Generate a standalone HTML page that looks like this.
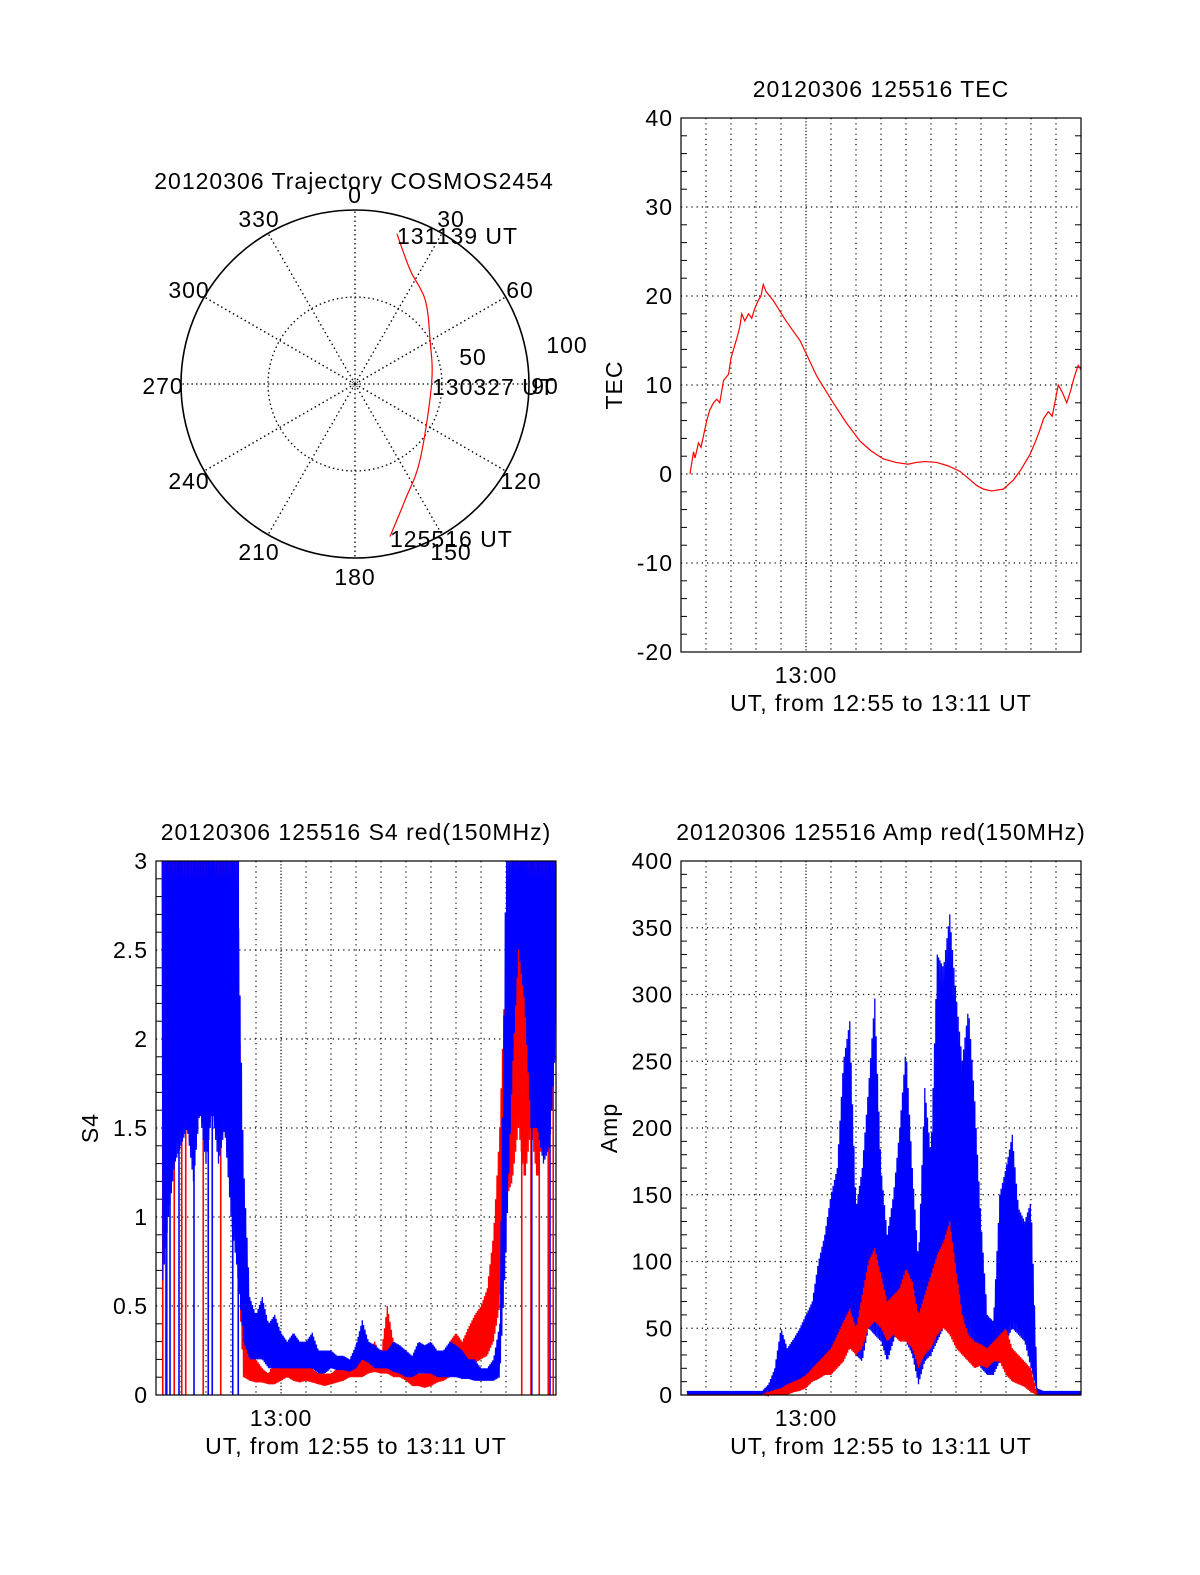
<!DOCTYPE html>
<html><head><meta charset="utf-8"><style>
html,body{margin:0;padding:0;background:#fff;overflow:hidden;}
svg{display:block;font-family:"Liberation Sans",sans-serif;}
svg text{letter-spacing:1px;}
</style></head><body>
<svg id="fig" width="1200" height="1575" viewBox="0 0 1200 1575" xmlns="http://www.w3.org/2000/svg">
<rect width="1200" height="1575" fill="#fff"/>
</svg>
<script>
// ---------- Data ----------
const polarAz = [167.1,156.7,139.5,90,59.6,39.8,25.8,15.6];
const polarR  = [90,72.7,57.5,44,50,63,72.8,89.6];
const polarAngles = [0,30,60,90,120,150,180,210,240,270,300,330];

const tecT = [0.36,0.5,0.56,0.7,0.8,1.03,1.15,1.3,1.43,1.55,1.7,1.9,2.0,2.1,2.23,2.35,2.43,2.55,2.7,2.83,2.95,3.09,3.2,3.29,3.4,3.69,4.2,4.76,5.43,6.09,6.6,7.16,7.6,8.09,8.6,9.09,9.4,9.76,10.23,10.7,11.16,11.5,11.83,12.1,12.43,12.89,13.29,13.6,13.96,14.2,14.36,14.5,14.69,14.85,15.09,15.25,15.43,15.6,15.69,15.8,15.89,16.0];
const tecV = [0,2.5,1.8,3.5,3,6,7.2,8,8.4,8,10.5,11.2,13,14,15.2,16.5,18,17.2,18,17.5,18.6,19.5,20,21.3,20.5,19.5,17.2,15,11,8,5.8,3.7,2.6,1.7,1.3,1.1,1.3,1.4,1.3,0.9,0.3,-0.5,-1.3,-1.7,-1.9,-1.7,-0.7,0.5,2.2,3.8,5,6.2,7,6.5,10,9.2,8,9.5,10.5,11.5,12.2,11.7];

const binT = [];
for (let i = 0; i <= 64; i++) binT.push(i * 0.25);

const s4BlueHi = [null,3,3,3,3,3,3,3,3,3,3,3,3,3,1.3,0.55,0.45,0.55,0.4,0.45,0.35,0.3,0.35,0.3,0.3,0.35,0.25,0.25,0.25,0.22,0.22,0.2,0.28,0.42,0.3,0.28,0.25,0.25,0.3,0.28,0.25,0.22,0.3,0.28,0.3,0.25,0.25,0.3,0.28,0.25,0.2,0.2,0.15,0.15,0.2,0.4,3,3,3,3,3,3,3,3,3];
const s4BlueLo = [null,0.6,1.0,1.3,1.4,1.5,1.2,1.6,1.3,1.6,1.3,1.5,1.0,0.7,0.3,0.2,0.2,0.2,0.15,0.15,0.15,0.15,0.15,0.15,0.15,0.15,0.12,0.12,0.15,0.14,0.14,0.13,0.15,0.2,0.18,0.15,0.15,0.15,0.13,0.12,0.1,0.1,0.12,0.12,0.12,0.1,0.1,0.1,0.1,0.09,0.09,0.08,0.08,0.08,0.08,0.1,0.8,1.8,2.5,2.2,1.5,1.5,1.3,1.4,2];
const s4RedHi = [null,3,3,3,3,3,3,3,3,3,3,3,3,3,0.7,0.3,0.2,0.15,0.12,0.2,0.22,0.25,0.2,0.18,0.2,0.15,0.12,0.12,0.12,0.15,0.18,0.2,0.2,0.22,0.25,0.3,0.22,0.5,0.3,0.25,0.2,0.12,0.12,0.12,0.15,0.15,0.2,0.3,0.35,0.3,0.38,0.45,0.5,0.6,0.9,1.5,2.5,3,3,3,3,3,3,3,3];
const s4RedLo = [null,1.0,1.2,1.4,1.5,1.5,1.3,1.6,1.4,1.6,1.4,1.5,1.1,0.8,0.1,0.08,0.07,0.07,0.06,0.06,0.08,0.1,0.08,0.07,0.08,0.07,0.06,0.05,0.06,0.07,0.08,0.1,0.1,0.1,0.12,0.13,0.12,0.12,0.1,0.1,0.08,0.05,0.05,0.04,0.05,0.07,0.08,0.1,0.12,0.12,0.15,0.18,0.2,0.22,0.3,0.5,1.1,1.2,1.5,1.2,1.5,1.2,1.5,1.8,2.5];
const s4BlueDrops = [0.43,0.56,0.92,1.52,2.09,2.25,3.07,3.29,15.03,15.76];
const s4RedDrops  = [0.27,0.39,0.73,1.03,1.19,1.89,2.59,14.63,15.0,15.33,15.69,15.89];

const ampBlueHi = [null,3,3,3,3,3,3,3,3,3,3,3,3,3,8,20,50,35,42,50,60,70,100,120,150,170,250,280,140,170,230,297,170,120,150,200,260,170,100,230,180,330,320,360,300,250,290,220,130,60,55,150,170,195,140,130,145,5,3,3,3,3,3,3,3];
const ampBlueLo = [null,0,0,0,0,0,0,0,0,0,0,0,0,0,0,0,3,5,3,5,8,10,12,15,20,30,45,40,30,25,50,45,40,25,40,55,40,30,8,25,30,40,50,50,40,30,40,35,20,15,15,25,40,50,45,40,20,0,0,0,0,0,0,0,0];
const ampRedHi = [null,0,0,0,0,0,0,0,0,0,0,0,0,0,2,4,5,8,10,12,15,20,25,30,35,45,55,65,50,75,100,110,90,70,75,80,95,85,60,75,90,105,115,130,95,60,45,40,38,35,40,45,50,35,30,25,20,0,0,0,0,0,0,0,0];
const ampRedLo = [null,0,0,0,0,0,0,0,0,0,0,0,0,0,0,0,0,0,2,3,5,10,12,15,15,20,25,35,30,35,50,55,50,40,45,40,40,35,20,30,35,45,50,45,35,30,25,20,22,20,25,25,15,10,8,6,2,0,0,0,0,0,0,0,0];

// ---------- Helpers ----------
const NS = "http://www.w3.org/2000/svg";
const fig = document.getElementById('fig');
const FS = 23;
function mk(tag, attrs, parent, text) {
  const e = document.createElementNS(NS, tag);
  for (const k in attrs) e.setAttribute(k, attrs[k]);
  if (text !== undefined) e.textContent = text;
  (parent || fig).appendChild(e);
  return e;
}

// ---------- Polar plot ----------
const pc = {x:355, y:384, R:174};
const polarG = mk('g', {});


function pxy(az, r) {
  const a = az * Math.PI / 180, rr = r / 100 * pc.R;
  return [pc.x + rr * Math.sin(a), pc.y - rr * Math.cos(a)];
}
polarAngles.forEach(a => {
  const [x, y] = pxy(a, 100);
  const l = mk('line', {x1:pc.x, y1:pc.y, x2:x, y2:y, stroke:'#000', 'stroke-width':1.3, 'stroke-dasharray':'1.5 3'}, polarG);
  
  
});
const ic = mk('circle', {cx:pc.x, cy:pc.y, r:pc.R/2, fill:'none', stroke:'#000', 'stroke-width':1.3, 'stroke-dasharray':'1.5 3'}, polarG);


const oc = mk('circle', {cx:pc.x, cy:pc.y, r:pc.R, fill:'none', stroke:'#000', 'stroke-width':1.6}, polarG);


mk('circle', {cx:pc.x, cy:pc.y, r:3, fill:'none', stroke:'#000', 'stroke-width':0.8, 'stroke-dasharray':'1 1'}, polarG);
(function(){
  const P = polarAz.map((a,i)=>pxy(a, polarR[i]));
  let d = 'M' + P[0].join(',');
  for (let i = 0; i < P.length - 1; i++) {
    const p0 = P[Math.max(0,i-1)], p1 = P[i], p2 = P[i+1], p3 = P[Math.min(P.length-1,i+2)];
    const c1 = [p1[0] + (p2[0]-p0[0])/6, p1[1] + (p2[1]-p0[1])/6];
    const c2 = [p2[0] - (p3[0]-p1[0])/6, p2[1] - (p3[1]-p1[1])/6];
    d += ' C' + c1.join(',') + ' ' + c2.join(',') + ' ' + p2.join(',');
  }
  const traj = mk('path', {d:d, fill:'none', stroke:'#f00', 'stroke-width':1.2}, polarG);
  
  
})();
const plabels = [['0',355,203],['30',451,227],['60',520,298],['90',545,394],['120',521,489],['150',451,560],['180',355,585],['210',259,560],['240',189,489],['270',163,394],['300',189,298],['330',259,227]];
plabels.forEach(p => {
  const t = mk('text', {x:p[1], y:p[2], 'font-size':FS, 'text-anchor':'middle'}, polarG, p[0]);
  
  
});
[['100',567,353],['50',473,365]].forEach(p => {
  const t = mk('text', {x:p[1], y:p[2], 'font-size':FS, 'text-anchor':'middle'}, polarG, p[0]);
  
  
});
[['131139 UT',397,244],['130327 UT',432,395],['125516 UT',390,547]].forEach(p => {
  const t = mk('text', {x:p[1], y:p[2], 'font-size':FS}, polarG, p[0]);
  
  
});
const pt = mk('text', {x:354, y:189, 'font-size':FS, 'text-anchor':'middle'}, polarG, '20120306 Trajectory COSMOS2454');



// ---------- Cartesian panels ----------
function panel(cfg) {
  const g = mk('g', {});
  
  
  const {x0, y0, w, h, ymin, ymax} = cfg;
  const X = t => x0 + t / 16 * w;
  const Y = v => y0 + h - (v - ymin) / (ymax - ymin) * h;
  for (let m = 1; m < 16; m++) {
    const l = mk('line', {x1:X(m), y1:y0, x2:X(m), y2:y0+h, stroke:'#000', 'stroke-width':1.2, 'stroke-dasharray': m===5 ? '1.2 2' : '1.2 4'}, g);
    
    
  }
  for (let v = ymin; v <= ymax + 1e-9; v += cfg.minor) {
    const isMaj = Math.abs(Math.round((v - ymin)/cfg.major) * cfg.major - (v - ymin)) < 1e-6;
    const yy = Y(v);
    if (isMaj) {
      if (v > ymin + 1e-9 && v < ymax - 1e-9) {
        const l = mk('line', {x1:x0, y1:yy, x2:x0+w, y2:yy, stroke:'#000', 'stroke-width':1.2, 'stroke-dasharray':'1.2 4'}, g);
        
        
      }
      const t = mk('text', {x:x0-8, y:yy+8, 'font-size':FS, 'text-anchor':'end'}, g, cfg.fmt(v));
      
      
    } else {
      mk('line', {x1:x0, y1:yy, x2:x0+6, y2:yy, stroke:'#000', 'stroke-width':1}, g);
      mk('line', {x1:x0+w-6, y1:yy, x2:x0+w, y2:yy, stroke:'#000', 'stroke-width':1}, g);
    }
  }
  cfg.draw(g, X, Y);
  const fr = mk('rect', {x:x0, y:y0, width:w, height:h, fill:'none', stroke:'#000', 'stroke-width':1.2}, g);
  
  
  const xt = mk('text', {x:X(5), y:y0+h+31, 'font-size':FS, 'text-anchor':'middle'}, g, '13:00');
  
  
  const xl = mk('text', {x:x0+w/2, y:y0+h+59, 'font-size':FS, 'text-anchor':'middle'}, g, 'UT, from 12:55 to 13:11 UT');
  
  
  const tt = mk('text', {x:x0+w/2, y:y0-21, 'font-size':FS, 'text-anchor':'middle'}, g, cfg.title);
  
  
  const yl = mk('text', {x:cfg.ylx, y:y0+h/2, 'font-size':FS, 'text-anchor':'middle', transform:`rotate(-90 ${cfg.ylx} ${y0+h/2})`}, g, cfg.ylabel);
  
  
}

function band(g, X, Y, hi, lo, color, name) {
  let pts = [];
  const flush = () => {
    if (pts.length) {
      const e = mk('polyline', {points:pts.join(' '), fill:'none', stroke:color, 'stroke-width':1.3}, g);
      
      
    }
    pts = [];
  };
  let k = 0;
  for (let i = 0; i < binT.length - 1; i++) {
    if (hi[i] === null || hi[i+1] === null) { flush(); continue; }
    const xa = X(binT[i]), xb = X(binT[i+1]);
    const n = Math.max(2, Math.round((xb - xa) / 0.7));
    for (let s = 0; s < n; s++) {
      const f = s / n;
      const h = hi[i] + (hi[i+1]-hi[i]) * f;
      const l = lo[i] + (lo[i+1]-lo[i]) * f;
      const v = (k++ % 2 === 0) ? h : l;
      pts.push((xa + (xb-xa)*f).toFixed(1) + ',' + Y(v).toFixed(1));
    }
  }
  flush();
}
function drops(g, X, Y, ts, color, top) {
  ts.forEach(t => {
    const l = mk('line', {x1:X(t), y1:Y(0), x2:X(t), y2:Y(top), stroke:color, 'stroke-width':1.6}, g);
    
    
  });
}

panel({name:'tec-panel', x0:681, y0:118, w:400, h:534, ymin:-20, ymax:40, major:10, minor:2,
  fmt:v=>String(Math.round(v)), title:'20120306 125516 TEC', ylabel:'TEC', ylx:622,
  draw:(g,X,Y)=>{
    const l = mk('polyline', {points: tecT.map((t,i)=>X(t)+','+Y(tecV[i])).join(' '), fill:'none', stroke:'#f00', 'stroke-width':1.2}, g);
    
    
  }});

panel({name:'s4-panel', x0:156, y0:861, w:400, h:534, ymin:0, ymax:3, major:0.5, minor:0.1,
  fmt:v=>String(Math.round(v*10)/10), title:'20120306 125516 S4 red(150MHz)', ylabel:'S4', ylx:98,
  draw:(g,X,Y)=>{
    band(g, X, Y, s4RedHi, s4RedLo, '#f00', 's4-red-series');
    drops(g, X, Y, s4RedDrops, '#f00', 3);
    band(g, X, Y, s4BlueHi, s4BlueLo, '#00f', 's4-blue-series');
    drops(g, X, Y, s4BlueDrops, '#00f', 3);
  }});

panel({name:'amp-panel', x0:681, y0:861, w:400, h:534, ymin:0, ymax:400, major:50, minor:10,
  fmt:v=>String(Math.round(v)), title:'20120306 125516 Amp red(150MHz)', ylabel:'Amp', ylx:617,
  draw:(g,X,Y)=>{
    band(g, X, Y, ampBlueHi, ampBlueLo, '#00f', 'amp-blue-series');
    band(g, X, Y, ampRedHi, ampRedLo, '#f00', 'amp-red-series');
  }});
</script>
</body></html>
